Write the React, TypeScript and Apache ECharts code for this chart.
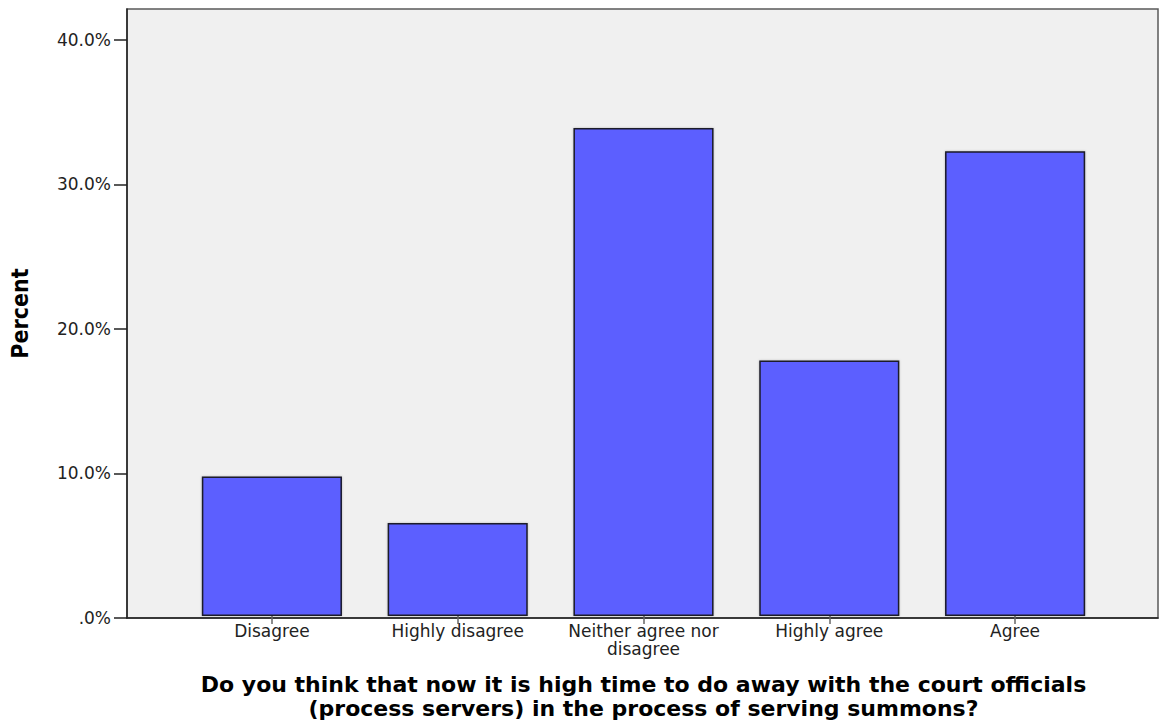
import React, { useEffect, useRef } from "react";
import * as echarts from "echarts";

const categories = [
  "Disagree",
  "Highly disagree",
  "Neither agree nor\ndisagree",
  "Highly agree",
  "Agree",
];
const percents = [9.68, 6.45, 33.87, 17.74, 32.26];
const yTicks = [0, 10, 20, 30, 40];
const xTitle =
  "Do you think that now it is high time to do away with the court officials\n(process servers) in the process of serving summons?";
const yTitle = "Percent";

const Y_MAX = 42.13;

export default function App() {
  const ref = useRef<HTMLDivElement>(null);
  useEffect(() => {
    if (!ref.current) return;
    const chart = echarts.init(ref.current, undefined, { renderer: "svg" });
    const tickFont = "DejaVu Sans, sans-serif";
    chart.setOption({
      animation: false,
      backgroundColor: "#ffffff",
      grid: [
        {
          left: 127,
          right: 1,
          top: 9,
          bottom: 107,
          show: true,
          backgroundColor: "#f0f0f0",
          borderColor: "#5a5a5a",
          borderWidth: 1.5,
        },
        {
          left: 179,
          right: 51,
          top: 9,
          bottom: 107,
        },
      ],
      xAxis: [
        {
          type: "value",
          gridIndex: 0,
          min: 0,
          max: 1,
          axisLine: { show: true, lineStyle: { color: "#222", width: 1.5 } },
          axisTick: { show: false },
          axisLabel: { show: false },
          splitLine: { show: false },
        },
        {
          type: "category",
          gridIndex: 1,
          data: categories,
          axisLine: { show: false },
          axisTick: {
            show: true,
            alignWithLabel: true,
            length: 8,
            lineStyle: { color: "#666", width: 1.5 },
          },
          axisLabel: {
            interval: 0,
            margin: 6,
            color: "#222",
            fontSize: 17,
            lineHeight: 18,
            fontFamily: tickFont,
          },
          name: xTitle,
          nameLocation: "middle",
          nameGap: 56,
          nameTextStyle: {
            color: "#000",
            fontSize: 22,
            fontWeight: "bold",
            lineHeight: 24,
            fontFamily: "DejaVu Sans, sans-serif",
            verticalAlign: "top",
          },
        },
      ],
      yAxis: [
        {
          type: "value",
          gridIndex: 0,
          min: 0,
          max: Y_MAX,
          axisLine: { show: true, lineStyle: { color: "#222", width: 1.5 } },
          axisTick: {
            show: true,
            length: 13,
            customValues: yTicks,
            lineStyle: { color: "#222", width: 1.5 },
          },
          axisLabel: {
            customValues: yTicks,
            margin: 16,
            color: "#222",
            fontSize: 17,
            fontFamily: tickFont,
            formatter: (v: number) => (v === 0 ? ".0%" : v.toFixed(1) + "%"),
          },
          splitLine: { show: false },
          name: yTitle,
          nameLocation: "middle",
          nameRotate: 90,
          nameGap: 96,
          nameTextStyle: {
            color: "#000",
            fontSize: 23,
            fontWeight: "bold",
            fontFamily: "DejaVu Sans Condensed, DejaVu Sans, sans-serif",
          },
        },
        {
          type: "value",
          gridIndex: 1,
          min: 0,
          max: Y_MAX,
          show: false,
          splitLine: { show: false },
        },
      ],
      series: [
        {
          type: "bar",
          xAxisIndex: 1,
          yAxisIndex: 1,
          data: percents,
          barCategoryGap: "24.6%",
          itemStyle: {
            color: "#5c5fff",
            borderColor: "#1a1a2a",
            borderWidth: 1.5,
            shadowColor: "rgba(0,0,0,0.25)",
            shadowBlur: 2,
          },
          z: 3,
        },
      ],
    });
    return () => chart.dispose();
  }, []);
  return (
    <div
      ref={ref}
      style={{ position: "fixed", left: 0, top: 0, width: 1159, height: 725 }}
    />
  );
}
